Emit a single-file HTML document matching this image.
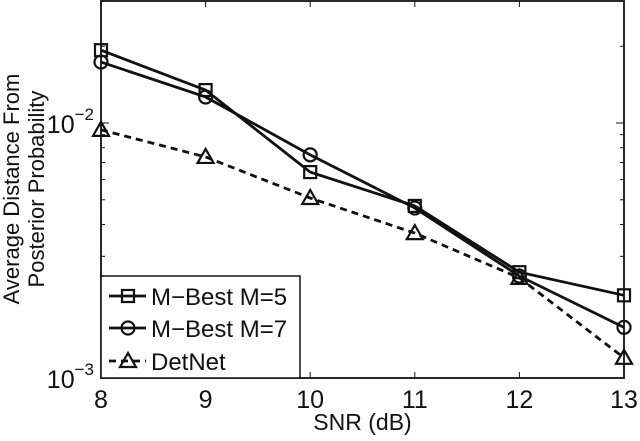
<!DOCTYPE html>
<html><head><meta charset="utf-8"><style>
body{margin:0;background:#fff;}
svg text{font-family:"Liberation Sans",sans-serif;fill:#111;}
</style></head><body>
<svg id="chart" width="640" height="436" xmlns="http://www.w3.org/2000/svg"></svg>
<script>
const snr = [8, 9, 10, 11, 12, 13];
const mbest5 = [0.0193, 0.01346, 0.00642, 0.00473, 0.0026, 0.00211];
const mbest7 = [0.01734, 0.01265, 0.0075, 0.00464, 0.00251, 0.00158];
const detnet = [0.0094, 0.00736, 0.00508, 0.0037, 0.00247, 0.0012];
const xTicks = [8, 9, 10, 11, 12, 13];
const yDecades = [-3, -2];
const legendLabels = ["M\u2212Best M=5", "M\u2212Best M=7", "DetNet"];

const L=101,R=624,T=1,B=378;
const X=v=>L+(v-8)/(13-8)*(R-L);
const decPx=255;
const Y=v=>B-(Math.log10(v)+3)*decPx;
const svg=document.getElementById('chart');
const NS='http://www.w3.org/2000/svg';
function mk(tag,attrs,parent){const e=document.createElementNS(NS,tag);for(const k in attrs)e.setAttribute(k,attrs[k]);(parent||svg).appendChild(e);return e;}

const box=mk('rect',{x:L,y:T,width:R-L,height:B-T,fill:'none',stroke:'#111','stroke-width':1.8});



xTicks.forEach(t=>{
  const x=X(t);
  mk('line',{x1:x,y1:B,x2:x,y2:B-6,stroke:'#111'});
  mk('line',{x1:x,y1:T,x2:x,y2:T+6,stroke:'#111'});
  const tx=mk('text',{x:x,y:B+30,'text-anchor':'middle','font-size':25});
  tx.textContent=t;
  
  
});
for(let d=-3;d<=-2;d++){
  for(let m=1;m<=9;m++){
    const v=m*Math.pow(10,d);
    const y=Y(v);
    if(y<T)continue;
    const len=m===1?8:4;
    mk('line',{x1:L,y1:y,x2:L+len,y2:y,stroke:'#111'});
    mk('line',{x1:R,y1:y,x2:R-len,y2:y,stroke:'#111'});
  }
}
yDecades.forEach(d=>{
  const y=Y(Math.pow(10,d));
  const tx=mk('text',{x:94,y:y+10,'text-anchor':'end','font-size':25});
  tx.textContent='10';
  const sup=mk('tspan',{dy:-13,'font-size':17},tx);
  sup.textContent='\u2212'+(-d);
  
  
});

const xt=mk('text',{x:(L+R)/2,y:430,'text-anchor':'middle','font-size':23});
xt.textContent='SNR (dB)';


const yt=mk('text',{transform:'translate(19,189) rotate(-90)','text-anchor':'middle','font-size':22});
yt.textContent='Average Distance From';


const yt2=mk('text',{transform:'translate(44,189) rotate(-90)','text-anchor':'middle','font-size':22});
yt2.textContent='Posterior Probability';



function marker(kind,x,y,g){
  if(kind==='sq')return mk('rect',{x:x-6,y:y-6,width:12,height:12,fill:'none',stroke:'#111','stroke-width':2.2},g);
  if(kind==='ci')return mk('circle',{cx:x,cy:y,r:6.5,fill:'none',stroke:'#111','stroke-width':2.2},g);
  return mk('polygon',{points:`${x},${y-8} ${x-8},${y+6} ${x+8},${y+6}`,fill:'none',stroke:'#111','stroke-width':2.2},g);
}
const series=[[mbest5,'sq',''],[mbest7,'ci',''],[detnet,'tr','7,5']];
const names=['series-mbest-m5','series-mbest-m7','series-detnet'];
series.forEach((s,i)=>{
  const g=mk('g',{});
  
  
  const pts=snr.map((v,j)=>X(v)+','+Y(s[0][j])).join(' ');
  mk('polyline',{points:pts,fill:'none',stroke:'#111','stroke-width':2.8,'stroke-dasharray':s[2]},g);
  snr.forEach((v,j)=>{const m=marker(s[1],X(v),Y(s[0][j]),g);
    
    });
});

const lg=mk('g',{});


mk('rect',{x:L,y:276,width:199,height:102,fill:'#fff',stroke:'#111','stroke-width':1.5},lg);
const kinds=['sq','ci','tr'],dashes=['','','7,5'],ly=[296,328,361];
legendLabels.forEach((lab,i)=>{
  const e=mk('g',{},lg);
  
  
  mk('line',{x1:109,y1:ly[i],x2:146,y2:ly[i],stroke:'#111','stroke-width':2.8,'stroke-dasharray':dashes[i]},e);
  marker(kinds[i],128,ly[i],e);
  const t=mk('text',{x:151,y:ly[i]+9,'font-size':24},e);
  t.textContent=lab;
});
</script>
</body></html>
